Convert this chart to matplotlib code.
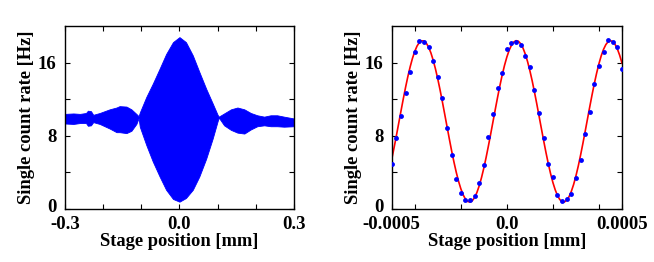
import matplotlib
matplotlib.use("Agg")
import matplotlib.pyplot as plt
import matplotlib.transforms as mtransforms

# left panel: upper / lower envelope of the dense interference fringes
scan_pos = [-0.300, -0.278, -0.261, -0.245, -0.240, -0.232, -0.226, -0.209, -0.183, -0.165,
            -0.157, -0.139, -0.126, -0.113, -0.107, -0.104, -0.087, -0.070, -0.052, -0.035,
            -0.017, 0.000, 0.017, 0.035, 0.052, 0.070, 0.087, 0.100, 0.103, 0.117,
            0.135, 0.152, 0.170, 0.187, 0.204, 0.222, 0.239, 0.256, 0.274, 0.300]
scan_upper = [10.4, 10.45, 10.4, 10.5, 10.75, 10.7, 10.3, 10.5, 10.9, 11.1,
              11.25, 11.2, 10.9, 10.4, 10.15, 10.55, 12.25, 13.7, 15.35, 16.95,
              18.25, 18.8, 18.25, 16.8, 15.0, 13.15, 11.55, 10.3, 10.1, 10.45,
              10.9, 11.1, 10.9, 10.5, 10.25, 10.1, 10.25, 10.25, 10.1, 9.9]
scan_lower = [9.35, 9.3, 9.4, 9.4, 9.1, 9.15, 9.5, 9.3, 8.8, 8.4,
              8.4, 8.3, 8.55, 9.3, 9.95, 9.0, 7.0, 5.2, 3.55, 2.1,
              1.1, 0.8, 1.2, 2.1, 3.55, 5.5, 7.7, 9.6, 10.0, 9.15,
              8.65, 8.35, 8.25, 8.7, 9.05, 9.15, 9.05, 9.05, 9.0, 9.05]

# right panel: measured points (step 0.00002 mm) and fitted curve (step 0.00001 mm)
fine_start, fine_step = -0.0005, 0.00002
fine_counts = [4.93, 7.73, 10.2, 12.7, 14.99, 17.17, 18.36, 18.29, 17.7, 16.15, 14.48, 12.16, 8.89,
               5.88, 3.30, 1.74, 0.94, 0.98, 1.38, 2.83, 4.86, 7.91, 10.34, 13.24, 14.91, 17.49, 18.14,
               18.25, 17.92, 16.76, 15.49, 12.99, 10.45, 7.73, 4.93, 3.52, 1.56, 0.91, 1.12, 1.67, 3.37,
               5.37, 8.20, 10.6, 13.7, 15.67, 17.13, 18.43, 18.29, 17.7, 15.27]
fit_step = 0.00001
fit_counts = [5.44, 6.69, 8.00, 9.35, 10.70, 12.03, 13.30, 14.49, 15.55, 16.48,
              17.24, 17.83, 18.21, 18.40, 18.37, 18.14, 17.70, 17.08, 16.27, 15.31,
              14.21, 13.01, 11.72, 10.38, 9.03, 7.68, 6.38, 5.16, 4.04, 3.05,
              2.22, 1.56, 1.09, 0.82, 0.76, 0.91, 1.26, 1.81, 2.54, 3.44,
              4.48, 5.65, 6.91, 8.23, 9.58, 10.93, 12.25, 13.51, 14.68, 15.72,
              16.62, 17.36, 17.91, 18.26, 18.41, 18.35, 18.08, 17.61, 16.95, 16.12,
              15.13, 14.02, 12.79, 11.50, 10.15, 8.80, 7.46, 6.17, 4.96, 3.86,
              2.90, 2.10, 1.47, 1.03, 0.80, 0.77, 0.95, 1.34, 1.92, 2.68,
              3.61, 4.67, 5.86, 7.13, 8.46, 9.81, 11.16, 12.47, 13.72, 14.86,
              15.89, 16.76, 17.46, 17.98, 18.30, 18.41, 18.32, 18.01, 17.51, 16.82,
              15.96]
fine_pos = [fine_start + fine_step * i for i in range(len(fine_counts))]
fit_pos = [fine_start + fit_step * i for i in range(len(fit_counts))]

plt.rcParams["font.family"] = "Liberation Serif"
plt.rcParams["font.weight"] = "bold"
plt.rcParams["axes.unicode_minus"] = False

fig = plt.figure(figsize=(6.54, 2.62), dpi=100)
ax1 = fig.add_axes([0.0994, 0.2023, 0.350, 0.698])
ax2 = fig.add_axes([0.599, 0.2023, 0.352, 0.698])

ax1.fill_between(scan_pos, scan_lower, scan_upper, color="#0000ff", lw=0.6, edgecolor="#0000ff")
ax1.set_xlim(-0.3, 0.3)
ax1.set_xticks([-0.3, 0.0, 0.3])
ax1.set_xticklabels(["-0.3", "0.0", "0.3"])
ax1.set_xticks([-0.2, -0.1, 0.1, 0.2], minor=True)

ax2.plot(fit_pos, fit_counts, color="#ff0000", lw=1.2, zorder=2)
ax2.plot(fine_pos, fine_counts, "o", color="#0000ff", ms=3.5, mec="none", zorder=3)
ax2.set_xlim(-0.0005, 0.0005)
ax2.set_xticks([-0.0005, 0.0, 0.0005])
ax2.set_xticklabels(["-0.0005", "0.0", "0.0005"])
ax2.set_xticks([-0.0004, -0.0002, 0.0002, 0.0004], minor=True)

lift = mtransforms.ScaledTranslation(0, 2.5 / 72, fig.dpi_scale_trans)
for ax in (ax1, ax2):
    ax.set_ylim(0, 20)
    ax.set_yticks([0, 8, 16])
    ax.set_yticks([4, 12], minor=True)
    ax.tick_params(which="both", direction="in", top=True, right=True, length=3.5, width=0.8,
                   labelsize=13.5)
    ax.tick_params(axis="x", which="both", pad=5)
    ax.tick_params(axis="y", which="both", pad=6)
    for lab in ax.get_xticklabels() + ax.get_yticklabels():
        lab.set_fontweight("bold")
    # keep the "0" on the y axis clear of the first x label
    ylab0 = ax.get_yticklabels()[0]
    ylab0.set_transform(ylab0.get_transform() + lift)
    ax.set_xlabel("Stage position [mm]", fontsize=13.3, fontweight="bold", labelpad=0)
    ax.set_ylabel("Single count rate [Hz]", fontsize=13.3, fontweight="bold", labelpad=2)
    for sp in ax.spines.values():
        sp.set_linewidth(1.0)

fig.savefig("out.png", dpi=100)
